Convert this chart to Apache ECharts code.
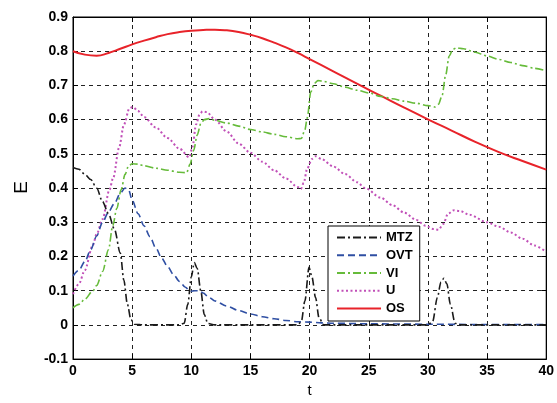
<!DOCTYPE html>
<html><head><meta charset="utf-8">
<script src="https://cdn.jsdelivr.net/npm/echarts@6/dist/echarts.min.js"></script>
<style>html,body{margin:0;padding:0;background:#fff}#c{width:557px;height:403px}</style>
</head><body><div id="c"></div>
<script>
const xTicks = [0,5,10,15,20,25,30,35,40];
const yTicks = [-0.1,0,0.1,0.2,0.3,0.4,0.5,0.6,0.7,0.8,0.9];
const seriesNames = ['MTZ','OVT','VI','U','OS'];

const mtzT = [0,0.5,1,1.5,2,2.5,3,3.5,4,4.3,4.6,4.9,5.2,6,9,9.4,9.7,10,10.25,10.5,10.8,11.1,11.4,12,19,19.3,19.6,19.95,20.2,20.5,20.8,21.2,30,30.4,30.8,31.1,31.35,31.6,31.9,32.3,32.6,40];
const mtzV = [0.46,0.455,0.44,0.425,0.4,0.36,0.325,0.28,0.21,0.13,0.06,0.015,0.002,0,0,0.005,0.06,0.14,0.182,0.165,0.1,0.03,0.004,0,0,0.01,0.07,0.168,0.14,0.08,0.02,0,0,0.01,0.08,0.125,0.136,0.12,0.06,0.005,0,0];

const ovtT = [0,0.5,1,1.5,2,2.5,3,3.5,4,4.4,4.7,5,5.5,6,6.5,7,7.5,8,8.5,9,9.5,9.9,10.3,10.7,11,11.5,12,13,14,15,16,17,18,19,20,21,22,25,30,35,40];
const ovtV = [0.143,0.16,0.185,0.22,0.26,0.3,0.33,0.355,0.385,0.4,0.395,0.365,0.325,0.29,0.258,0.225,0.195,0.17,0.147,0.127,0.11,0.098,0.1,0.1,0.093,0.08,0.07,0.055,0.042,0.032,0.024,0.018,0.013,0.009,0.008,0.006,0.005,0.003,0.002,0.001,0.001];

const viT = [0,0.5,1,1.67,2,2.5,3,3.36,3.7,4.07,4.4,4.7,5,5.5,6,7,8,9,9.6,9.9,10.2,10.5,10.8,11.1,11.5,12,13,14,15,16,17,18,19,19.3,19.6,19.8,20.1,20.4,20.7,21,22,23,24,25,26,27,28,29,30,30.6,30.9,31.2,31.5,31.8,32.1,32.4,33,34,35,36,37,38,39,40];
const viV = [0.05,0.06,0.075,0.099,0.115,0.156,0.22,0.29,0.34,0.395,0.44,0.465,0.471,0.47,0.465,0.458,0.452,0.446,0.445,0.47,0.51,0.555,0.588,0.6,0.603,0.598,0.59,0.581,0.571,0.564,0.557,0.55,0.544,0.545,0.57,0.605,0.681,0.706,0.714,0.713,0.705,0.695,0.686,0.678,0.668,0.661,0.654,0.648,0.641,0.637,0.645,0.671,0.73,0.786,0.805,0.81,0.807,0.797,0.786,0.776,0.767,0.758,0.75,0.743];

const uT = [0,0.5,1,1.67,2,2.5,3.08,3.4,3.9,4.3,4.77,5.05,5.5,6,7,8,9,9.83,10.1,10.4,10.7,10.95,11.3,12,13,14,15,16,17,18,19,19.26,19.5,19.8,20.2,20.5,21,22,23,24,24.7,26,27,28,29,29.8,30.5,30.9,31.3,31.7,32.2,32.7,33.5,35,36,37,38,39,40];
const uV = [0.09,0.12,0.16,0.233,0.265,0.309,0.395,0.43,0.519,0.585,0.633,0.637,0.625,0.608,0.577,0.546,0.515,0.49,0.52,0.586,0.615,0.624,0.622,0.6,0.565,0.53,0.503,0.477,0.452,0.428,0.403,0.397,0.415,0.457,0.485,0.493,0.485,0.463,0.441,0.417,0.4,0.372,0.35,0.328,0.307,0.29,0.28,0.278,0.295,0.325,0.335,0.333,0.322,0.3,0.287,0.27,0.252,0.232,0.213];

const osT = [0,1,2,3,4,5,6,7,8,9,10,11,12,13,14,15,16,17,18,19,20,22,24,26,28,30,32,34,36,38,40];
const osV = [0.8,0.79,0.787,0.795,0.807,0.82,0.831,0.841,0.85,0.856,0.86,0.862,0.863,0.861,0.856,0.848,0.838,0.825,0.811,0.795,0.777,0.741,0.705,0.67,0.635,0.601,0.568,0.535,0.505,0.479,0.454];

const zip = (t, v) => t.map((x, i) => [x, v[i]]);
const FONT = 'Liberation Sans, Arial, sans-serif';

const styles = [
  {color:'#1a1a1a', type:[8,3,2,3], width:1.6},
  {color:'#2f4fa3', type:[7,4], width:1.6},
  {color:'#66bb3a', type:[8,3,2,3], width:1.6},
  {color:'#c150b8', type:[2,2.5], width:2},
  {color:'#e8232a', type:'solid', width:2}
];
const smoothing = [0.3, 0.3, 0.3, 0.3, 0.5];
const monotone = ['x','x','x','x', null];
const dataSets = [zip(mtzT,mtzV), zip(ovtT,ovtV), zip(viT,viV), zip(uT,uV), zip(osT,osV)];

const chart = echarts.init(document.getElementById('c'), null, {renderer:'canvas'});
const axCommon = {
  axisLine:{show:true, onZero:false, lineStyle:{color:'#000', width:1}},
  axisTick:{show:true, inside:true, length:5, lineStyle:{color:'#000'}},
};
chart.setOption({
  animation:false,
  backgroundColor:'#fff',
  grid:{left:73, right:9.5, top:17, bottom:36, show:true, borderColor:'#000', borderWidth:1},
  graphic:[{type:'text', left:12, top:181, rotation:Math.PI/2,
    style:{text:'E', fontFamily:FONT, fontSize:19, fill:'#000'}}],
  xAxis:[
    Object.assign({type:'value', min:0, max:40, interval:5, name:'t', nameLocation:'middle', nameGap:22,
      nameTextStyle:{fontFamily:FONT, fontSize:15, color:'#000'},
      axisLabel:{fontFamily:FONT, fontWeight:'bold', fontSize:14, color:'#000', margin:5},
      splitLine:{show:true, lineStyle:{color:'#222', type:[4,4], width:1}}}, axCommon),
    Object.assign({type:'value', position:'top', min:0, max:40, interval:5, axisLabel:{show:false}, splitLine:{show:false}}, axCommon)
  ],
  yAxis:[
    Object.assign({type:'value', min:-0.1, max:0.9, interval:0.1,
      axisLabel:{fontFamily:FONT, fontWeight:'bold', fontSize:14, color:'#000', margin:5,
        formatter: v => { const r = Math.round(v*10)/10; return r === 0 ? '0' : String(r); }},
      splitLine:{show:true, lineStyle:{color:'#222', type:[4,4], width:1}}}, axCommon),
    Object.assign({type:'value', position:'right', min:-0.1, max:0.9, interval:0.1, axisLabel:{show:false}, splitLine:{show:false}}, axCommon)
  ],
  legend:{
    orient:'vertical', left:328, top:226, data:seriesNames,
    itemWidth:44, itemHeight:14, itemGap:4.75,
    padding:[5,7,6,8],
    itemStyle:{opacity:0},
    backgroundColor:'#fff', borderColor:'#000', borderWidth:1, borderRadius:0,
    textStyle:{fontFamily:FONT, fontWeight:'bold', fontSize:13, color:'#000'}
  },
  series: seriesNames.map((n, i) => ({
    name:n, type:'line', data:dataSets[i], symbol:'none', showSymbol:false,
    smooth:smoothing[i], smoothMonotone:monotone[i],
    lineStyle:styles[i], itemStyle:{color:styles[i].color}, z: 5 - i
  }))
});
</script></body></html>
